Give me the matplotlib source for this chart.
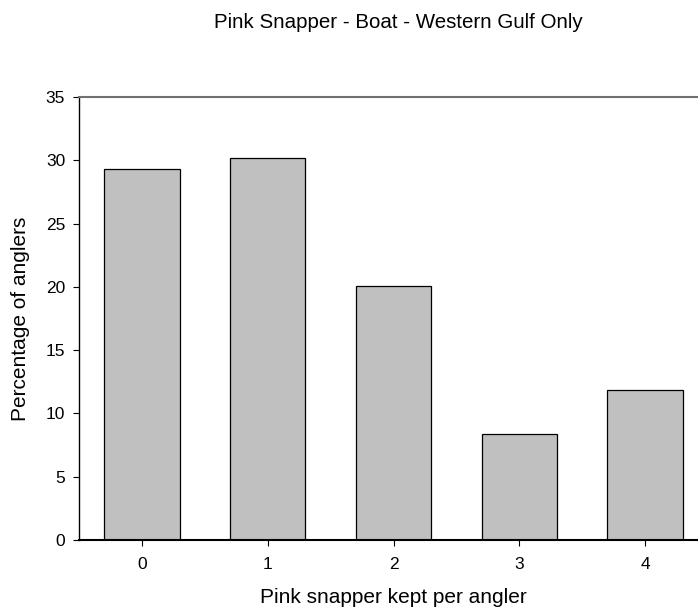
import matplotlib
matplotlib.use("Agg")
import matplotlib.pyplot as plt

# valores
categorias = [0, 1, 2, 3, 4]
porcentajes = [29.35, 30.2, 20.05, 8.4, 11.85]
etiquetas_y = [0, 5, 10, 15, 20, 25, 30, 35]

plt.rcParams['font.family'] = ['Liberation Sans', 'DejaVu Sans']

fig = plt.figure(figsize=(6.98, 6.15), dpi=100)
# el eje se sale un poco por la derecha, como en la original
ax = fig.add_axes([79 / 698, 75 / 615, 629 / 698, 443 / 615])

ax.bar(categorias, porcentajes, width=0.6, color='#c0c0c0',
       edgecolor='black', linewidth=0.9)

ax.set_xlim(-0.5, 4.5)
ax.set_ylim(0, 35)
ax.set_xticks(categorias)
ax.set_yticks(etiquetas_y)
ax.tick_params(direction='out', length=4.5, width=0.8, labelsize=12.5, pad=5.5)
ax.tick_params(axis='x', pad=8)

ax.spines['top'].set_color('#707070')
ax.spines['top'].set_linewidth(1.5)
ax.spines['right'].set_visible(False)
ax.spines['left'].set_linewidth(1.0)
ax.spines['bottom'].set_linewidth(1.5)

ax.set_xlabel('Pink snapper kept per angler', fontsize=15)
ax.set_ylabel('Percentage of anglers', fontsize=15)
ax.xaxis.set_label_coords((393 - 79) / 629, (540 - 588) / 443)
ax.yaxis.set_label_coords((30 - 79) / 629, 0.5)
fig.text(398 / 698, 1 - 28 / 615, 'Pink Snapper - Boat - Western Gulf Only',
         ha='center', va='baseline', fontsize=14.8)

fig.savefig('out.png', dpi=100)
